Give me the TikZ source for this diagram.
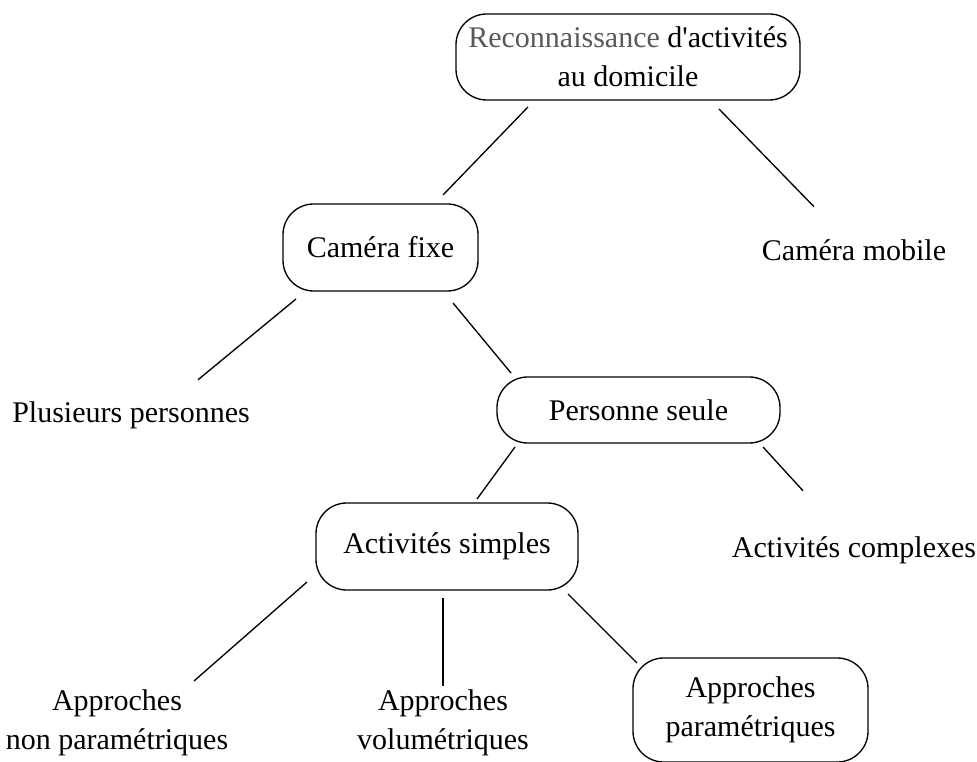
\documentclass[tikz,border=0pt]{standalone}
\usepackage{fontspec}
\setmainfont{Liberation Serif}
\newfontfamily\diagfont{Liberation Serif}
\usetikzlibrary{calc}

\definecolor{recongray}{gray}{0.35}
\tikzset{every picture/.style={line width=0.75pt}}
\tikzset{
  box/.style={draw, line width=1pt, rounded corners=23pt, align=center, inner sep=0pt},
  lbl/.style={align=center, inner sep=0pt},
  link/.style={line width=1pt}
}

\begin{document}
\begin{tikzpicture}[x=0.75pt,y=0.75pt,yscale=-1,xscale=1,
  every node/.append style={font=\diagfont\fontsize{22.5}{29}\selectfont}]
\useasboundingbox (0,0) rectangle (977,762);

%Rounded Rect
\node [box, minimum width=258pt, minimum height=64.5pt] (recon) at (628,57)
  {\textcolor{recongray}{Reconnaissance} d'activités\\au domicile};
%Rounded Rect
\node [box, minimum width=146.25pt, minimum height=65.25pt] (fixe) at (380.5,247.5) {Caméra fixe};
%Rounded Rect
\node [box, minimum width=212.25pt, minimum height=49.5pt] (seule) at (638.5,410) {Personne seule};
%Rounded Rect
\node [box, minimum width=196.5pt, minimum height=65.25pt] (simples) at (447,546.5) {Activités simples};
%Rounded Rect
\node [box, minimum width=176.25pt, minimum height=78pt] (param) at (750.5,710) {Approches\\paramétriques};

% Text Node
\node [lbl, anchor=base] (mobile) at (854,261) {Caméra mobile};
% Text Node
\node [lbl, anchor=base] (plusieurs) at (131,422) {Plusieurs personnes};
% Text Node
\node [lbl, anchor=base] (complexes) at (854,557) {Activités complexes};
% Text Node
\node [lbl] (nonparam) at (117,723) {Approches\\non paramétriques};
% Text Node
\node [lbl] (volum) at (443,723) {Approches\\volumétriques};

% Connectors
\draw [link] ($(recon)+(-100,50)$) -- ($(fixe)+(62.5,-52.5)$);
\draw [link] ($(recon)+(91,52)$) -- ($(mobile)+(-40,-44)$);
\draw [link] ($(fixe)+(-84.5,51.5)$) -- ($(plusieurs)+(67,-35)$);
\draw [link] ($(fixe)+(72.5,55.5)$) -- ($(seule)+(-127.5,-37)$);
\draw [link] ($(seule)+(-123.5,37)$) -- ($(simples)+(30,-47.5)$);
\draw [link] ($(seule)+(124.5,37)$) -- ($(complexes)+(-51,-59)$);
\draw [link] ($(simples)+(-140,35.5)$) -- ($(nonparam)+(77,-42)$);
\draw [link] ($(simples)+(-4,51.5)$) -- ($(volum)+(0,-37)$);
\draw [link] ($(simples)+(121,47.5)$) -- ($(param)+(-113.5,-47)$);

\end{tikzpicture}
\end{document}
